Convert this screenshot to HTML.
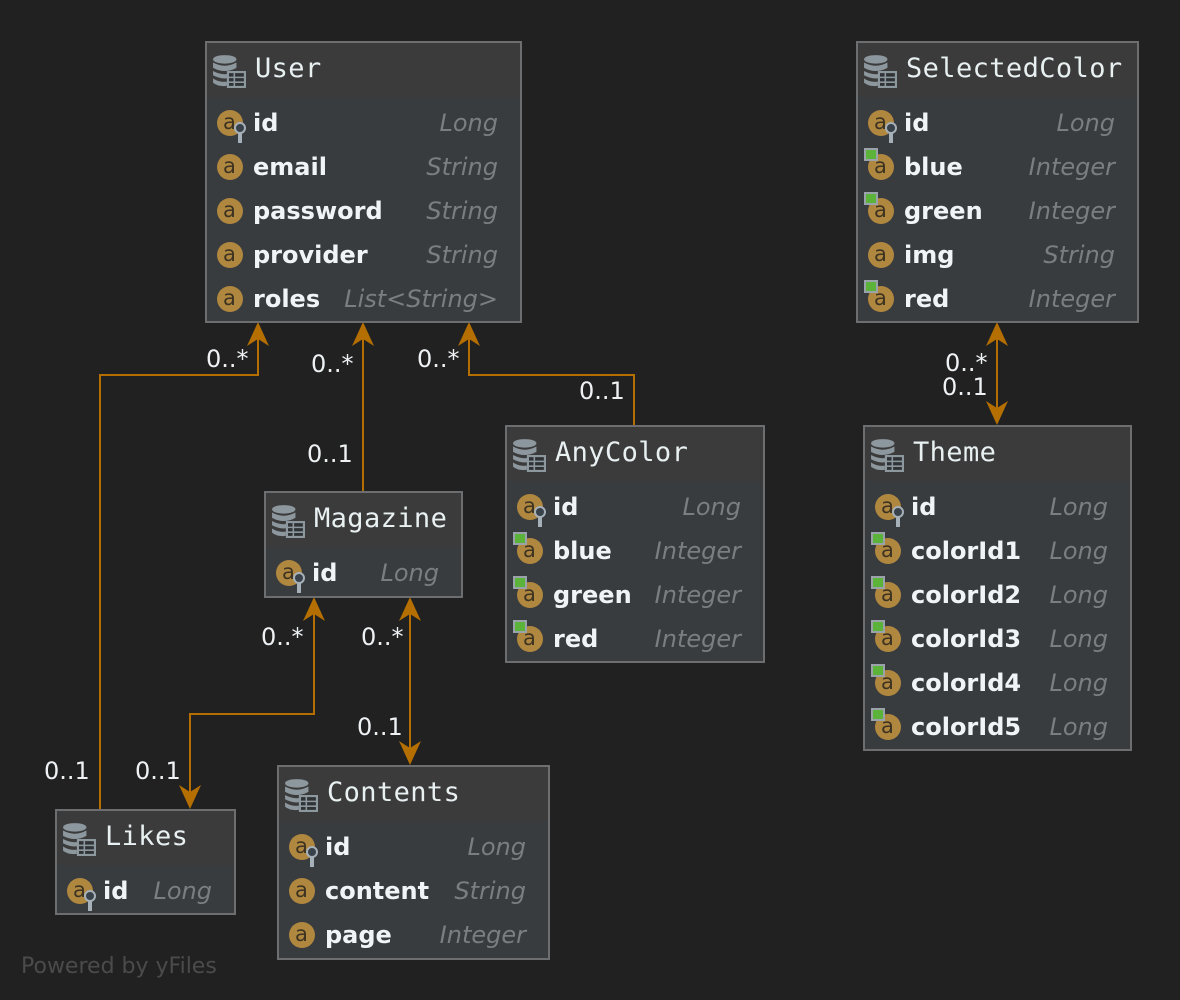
<!DOCTYPE html>
<html><head><meta charset="utf-8">
<style>
html,body{margin:0;padding:0;background:#212121;width:1180px;height:1000px;overflow:hidden;position:relative;font-family:"DejaVu Sans","Liberation Sans",sans-serif}
.box{position:absolute;box-sizing:border-box;border:2px solid #6c6e70;background:#393c3f}
.hd{height:54px;background:#3b3b3b;position:relative;color:#e8f0f2;font-family:"DejaVu Sans Mono","Liberation Mono",monospace;font-size:27px;line-height:52px}
.hd span{position:absolute;left:48px;top:0;letter-spacing:0.4px}
.hd svg{position:absolute;left:5px;top:11px}
.rows{padding-top:4px}
.row{position:relative;height:44px;line-height:44px}
.row b{position:absolute;left:46px;top:0;color:#f0f4f6;font-size:24px;font-weight:bold}
.row em{position:absolute;right:22px;top:0;color:#7b7e80;font-size:24px}
.ic{position:absolute;left:10px;top:9px;width:26px;height:26px;border-radius:50%;background:#b0873f}
.ic:before{content:"a";position:absolute;left:6px;top:-10px;color:#3d3322;font-size:21px;font-style:normal;font-family:"DejaVu Sans",sans-serif}
.k:after{content:"";position:absolute;left:17px;top:12px;width:8px;height:8px;border:2px solid #a6b0b8;border-radius:50%;background:#39424a}
.k i{position:absolute;left:21px;top:23px;width:4px;height:10px;background:#a6b0b8}
.f i{position:absolute;left:-4px;top:-6px;width:10px;height:9px;border:2px solid #9aa3aa;background:#5bb33a}
.lbl{position:absolute;color:#eef2f4;font-size:24px;line-height:24px;font-family:"DejaVu Sans",sans-serif}
</style></head><body>
<svg width="1180" height="1000" style="position:absolute;left:0;top:0">
<defs>
<symbol id="ah" viewBox="-11 0 22 24"><path d="M0 0 L11 24 L0 17 L-11 24 Z" fill="#b46f00"/></symbol>
</defs>
<g stroke="#b46f00" stroke-width="2" fill="none">
<polyline points="100,809 100,375 258,375 258,330"/>
<polyline points="363,491 363,330"/>
<polyline points="634,425 634,375 469,375 469,330"/>
<polyline points="997,330 997,417"/>
<polyline points="190,800 190,714 314,714 314,605"/>
<polyline points="410,605 410,757"/>
</g>
<use href="#ah" x="247" y="322" width="22" height="24"/>
<use href="#ah" x="352" y="322" width="22" height="24"/>
<use href="#ah" x="458" y="322" width="22" height="24"/>
<use href="#ah" x="986" y="322" width="22" height="24"/>
<use href="#ah" x="986" y="322" width="22" height="24" transform="rotate(180 997 373.5)"/>
<use href="#ah" x="303" y="597" width="22" height="24"/>
<use href="#ah" x="399" y="597" width="22" height="24"/>
<use href="#ah" x="399" y="597" width="22" height="24" transform="rotate(180 410 681)"/>
<use href="#ah" x="179" y="597" width="22" height="24" transform="rotate(180 190 703)"/>
<symbol id="db" viewBox="0 0 32 32"><g fill="#8d979e"><ellipse cx="12" cy="5" rx="11" ry="4"/><path d="M1 8 q11 6 22 0 v5 q-11 6 -22 0z"/><path d="M1 16 q11 6 22 0 v4 q-11 6 -22 0z"/><path d="M1 23 q6 4 13 3 v4 q-8 1 -13 -3z"/></g><rect x="15" y="17" width="16" height="14" fill="#2f3336" stroke="#8d979e" stroke-width="2"/><g stroke="#8d979e" stroke-width="1.5"><line x1="15" y1="22" x2="31" y2="22"/><line x1="15" y1="26.5" x2="31" y2="26.5"/><line x1="21" y1="17" x2="21" y2="31"/></g></symbol>
</svg>

<div class="lbl" style="left:206px;top:347px">0..*</div>
<div class="lbl" style="left:311px;top:352px">0..*</div>
<div class="lbl" style="left:417px;top:347px">0..*</div>
<div class="lbl" style="left:579px;top:379px">0..1</div>
<div class="lbl" style="left:307px;top:442px">0..1</div>
<div class="lbl" style="left:945px;top:351px">0..*</div>
<div class="lbl" style="left:942px;top:375px">0..1</div>
<div class="lbl" style="left:261px;top:625px">0..*</div>
<div class="lbl" style="left:361px;top:625px">0..*</div>
<div class="lbl" style="left:357px;top:715px">0..1</div>
<div class="lbl" style="left:44px;top:759px">0..1</div>
<div class="lbl" style="left:135px;top:759px">0..1</div>

<div class="box" style="left:205px;top:41px;width:317px;height:282px">
<div class="hd"><svg width="34" height="34"><use href="#db"/></svg><span>User</span></div>
<div class="rows">
<div class="row"><i class="ic k"><i></i></i><b>id</b><em>Long</em></div>
<div class="row"><i class="ic"></i><b>email</b><em>String</em></div>
<div class="row"><i class="ic"></i><b>password</b><em>String</em></div>
<div class="row"><i class="ic"></i><b>provider</b><em>String</em></div>
<div class="row"><i class="ic"></i><b>roles</b><em>List&lt;String&gt;</em></div>
</div></div>

<div class="box" style="left:856px;top:41px;width:283px;height:282px">
<div class="hd"><svg width="34" height="34"><use href="#db"/></svg><span>SelectedColor</span></div>
<div class="rows">
<div class="row"><i class="ic k"><i></i></i><b>id</b><em>Long</em></div>
<div class="row"><i class="ic f"><i></i></i><b>blue</b><em>Integer</em></div>
<div class="row"><i class="ic f"><i></i></i><b>green</b><em>Integer</em></div>
<div class="row"><i class="ic"></i><b>img</b><em>String</em></div>
<div class="row"><i class="ic f"><i></i></i><b>red</b><em>Integer</em></div>
</div></div>

<div class="box" style="left:505px;top:425px;width:260px;height:238px">
<div class="hd"><svg width="34" height="34"><use href="#db"/></svg><span>AnyColor</span></div>
<div class="rows">
<div class="row"><i class="ic k"><i></i></i><b>id</b><em>Long</em></div>
<div class="row"><i class="ic f"><i></i></i><b>blue</b><em>Integer</em></div>
<div class="row"><i class="ic f"><i></i></i><b>green</b><em>Integer</em></div>
<div class="row"><i class="ic f"><i></i></i><b>red</b><em>Integer</em></div>
</div></div>

<div class="box" style="left:863px;top:425px;width:269px;height:326px">
<div class="hd"><svg width="34" height="34"><use href="#db"/></svg><span>Theme</span></div>
<div class="rows">
<div class="row"><i class="ic k"><i></i></i><b>id</b><em>Long</em></div>
<div class="row"><i class="ic f"><i></i></i><b>colorId1</b><em>Long</em></div>
<div class="row"><i class="ic f"><i></i></i><b>colorId2</b><em>Long</em></div>
<div class="row"><i class="ic f"><i></i></i><b>colorId3</b><em>Long</em></div>
<div class="row"><i class="ic f"><i></i></i><b>colorId4</b><em>Long</em></div>
<div class="row"><i class="ic f"><i></i></i><b>colorId5</b><em>Long</em></div>
</div></div>

<div class="box" style="left:264px;top:491px;width:199px;height:107px">
<div class="hd"><svg width="34" height="34"><use href="#db"/></svg><span>Magazine</span></div>
<div class="rows">
<div class="row"><i class="ic k"><i></i></i><b>id</b><em>Long</em></div>
</div></div>

<div class="box" style="left:55px;top:809px;width:181px;height:106px">
<div class="hd"><svg width="34" height="34"><use href="#db"/></svg><span>Likes</span></div>
<div class="rows">
<div class="row"><i class="ic k"><i></i></i><b>id</b><em>Long</em></div>
</div></div>

<div class="box" style="left:277px;top:765px;width:273px;height:195px">
<div class="hd"><svg width="34" height="34"><use href="#db"/></svg><span>Contents</span></div>
<div class="rows">
<div class="row"><i class="ic k"><i></i></i><b>id</b><em>Long</em></div>
<div class="row"><i class="ic"></i><b>content</b><em>String</em></div>
<div class="row"><i class="ic"></i><b>page</b><em>Integer</em></div>
</div></div>

<div style="position:absolute;left:21px;top:954px;color:#4b4b4b;font-size:22px;font-family:'DejaVu Sans',sans-serif">Powered by yFiles</div>
</body></html>
